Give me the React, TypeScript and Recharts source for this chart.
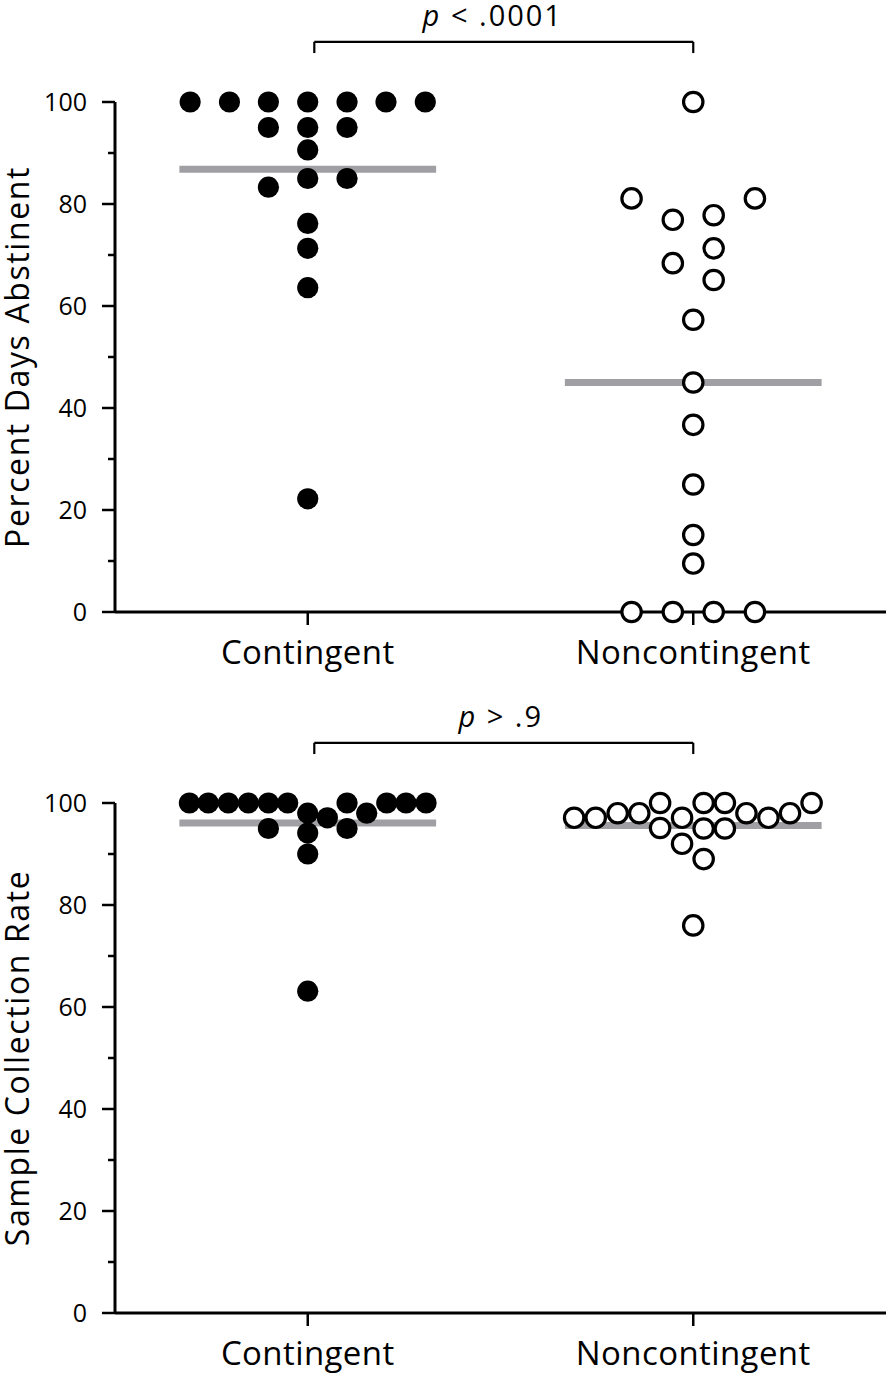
import React from 'react';
import {Label, ReferenceLine, Scatter, ScatterChart, XAxis, YAxis} from 'recharts';

const FONT = '"Open Sans", sans-serif';
const MEDIAN_GRAY = '#a0a0a4';

const categories = ['Contingent', 'Noncontingent'];
const yTicks = [0, 10, 20, 30, 40, 50, 60, 70, 80, 90, 100];

// [horizontal spread from the group centre, value]
const abstinentContingent = [
    [-0.305, 100], [-0.203, 100], [-0.102, 100], [0, 100], [0.102, 100], [0.203, 100], [0.305, 100],
    [-0.102, 95], [0, 95], [0.102, 95],
    [0, 90.6],
    [0, 85], [0.102, 85], [-0.102, 83.3],
    [0, 76.2], [0, 71.3], [0, 63.6], [0, 22.2],
];
const abstinentNoncontingent = [
    [0, 100],
    [-0.16, 81.1], [0.16, 81.1],
    [-0.053, 76.9], [0.053, 77.8],
    [0.053, 71.3], [-0.053, 68.4], [0.053, 65.1],
    [0, 57.3], [0, 45], [0, 36.7], [0, 25], [0, 15.1], [0, 9.5],
    [-0.16, 0], [-0.053, 0], [0.053, 0], [0.16, 0],
];
const abstinentMedians = [86.8, 45];

const collectionContingent = [
    [-0.307, 100], [-0.258, 100], [-0.206, 100], [-0.154, 100], [-0.102, 100], [-0.052, 100],
    [0.102, 100], [0.205, 100], [0.255, 100], [0.307, 100],
    [0, 98], [0.051, 97.1], [0.153, 98],
    [-0.102, 95], [0.102, 95], [0, 94.1], [0, 90], [0, 63.1],
];
const collectionNoncontingent = [
    [-0.309, 97.1], [-0.253, 97.1], [-0.196, 98], [-0.14, 98],
    [-0.086, 100], [-0.086, 95.1], [-0.029, 97.1], [-0.029, 92],
    [0.027, 100], [0.027, 95], [0.027, 89],
    [0.082, 100], [0.082, 95], [0.138, 98], [0.195, 97.1], [0.251, 98], [0.307, 100],
    [0, 76],
];
const collectionMedians = [96.1, 95.6];

const toPoints = (group: number, rows: number[][]) =>
    rows.map(([dx, v]) => ({x: group + dx, y: v}));

const FilledDot = (props: any) => <circle cx={props.cx} cy={props.cy} r={10.6} fill="#000"/>;
const OpenDot = (props: any) => (
    <circle cx={props.cx} cy={props.cy} r={9.7} fill="#fff" stroke="#000" strokeWidth={3.2}/>
);

const YTick = (props: any) => {
    const {x, y, payload} = props;
    const axisX = x + 25;
    const major = payload.value % 20 === 0;
    return (
        <g>
            <line x1={axisX - (major ? 13 : 7)} x2={axisX} y1={y} y2={y} stroke="#000" strokeWidth={2.5}/>
            {major && (
                <text x={axisX - 28} y={y} dy="0.36em" textAnchor="end" fontSize={25} fontFamily={FONT} fill="#000">
                    {payload.value}
                </text>
            )}
        </g>
    );
};

interface PanelProps {
    contingent: number[][];
    noncontingent: number[][];
    medians: number[];
    yLabel: string;
    pSign: string;
    pValue: string;
    pShift: number;
    top: number;
    xAxisHeight: number;
}

const Panel: React.FC<PanelProps> = ({contingent, noncontingent, medians, yLabel, pSign, pValue, pShift, top, xAxisHeight}) => (
    <ScatterChart width={886} height={top + 510 + xAxisHeight}
                  margin={{top: top, right: 0, left: 0, bottom: 0}}>
        <XAxis type="number" dataKey="x" domain={[0.5, 2.5]} ticks={[1, 2]}
               tickFormatter={(v: number) => categories[v - 1]}
               height={xAxisHeight} tickSize={13} tickMargin={16}
               axisLine={{stroke: '#000', strokeWidth: 3}}
               tickLine={{stroke: '#000', strokeWidth: 2.5}}
               tick={{fontSize: 33, fill: '#000', fontFamily: FONT, letterSpacing: 0.4}}
        />
        <YAxis type="number" dataKey="y" domain={[0, 100]} ticks={yTicks} interval={0}
               width={115} tickSize={13} tickMargin={12}
               axisLine={{stroke: '#000', strokeWidth: 3}}
               tickLine={false} tick={<YTick/>}>
            <Label content={(p: any) => {
                const cy = p.viewBox.y + p.viewBox.height / 2;
                return (
                    <text x={29} y={cy} transform={`rotate(-90, 29, ${cy})`} textAnchor="middle"
                          fontSize={32} letterSpacing={1.6} fontFamily={FONT} fill="#000">{yLabel}</text>
                );
            }}/>
        </YAxis>
        {medians.map((m, i) => (
            <ReferenceLine key={'m' + i} segment={[{x: i + 1 - 0.333, y: m}, {x: i + 1 + 0.333, y: m}]}
                           stroke={MEDIAN_GRAY} strokeWidth={7}/>
        ))}
        <ReferenceLine segment={[{x: 1.017, y: 109.6}, {x: 1.017, y: 111.8}]} ifOverflow="visible"
                       stroke="#000" strokeWidth={2.2}/>
        <ReferenceLine segment={[{x: 2, y: 109.6}, {x: 2, y: 111.8}]} ifOverflow="visible"
                       stroke="#000" strokeWidth={2.2}/>
        <ReferenceLine segment={[{x: 1.017, y: 111.8}, {x: 2, y: 111.8}]} ifOverflow="visible"
                       stroke="#000" strokeWidth={2.2}>
            <Label content={(p: any) => {
                const vb = p.viewBox || {};
                const cx = vb.x + (vb.width || 0) / 2 + pShift;
                return (
                    <text x={cx} y={vb.y - 16} textAnchor="middle" fontSize={29} letterSpacing={2}
                          fontFamily={FONT} fill="#000">
                        <tspan fontStyle="italic">p</tspan>{` ${pSign} ${pValue}`}
                    </text>
                );
            }}/>
        </ReferenceLine>
        <Scatter data={toPoints(1, contingent)} shape={<FilledDot/>} isAnimationActive={false}/>
        <Scatter data={toPoints(2, noncontingent)} shape={<OpenDot/>} isAnimationActive={false}/>
    </ScatterChart>
);

export default function App() {
    return (
        <div style={{position: 'absolute', left: 0, top: 0, width: 886, height: 1377, background: '#fff'}}>
            <Panel contingent={abstinentContingent} noncontingent={abstinentNoncontingent}
                   medians={abstinentMedians} yLabel="Percent Days Abstinent"
                   pSign="<" pValue=".0001" pShift={-11} top={102} xAxisHeight={78}/>
            <Panel contingent={collectionContingent} noncontingent={collectionNoncontingent}
                   medians={collectionMedians} yLabel="Sample Collection Rate"
                   pSign=">" pValue=".9" pShift={-3} top={113} xAxisHeight={64}/>
        </div>
    );
}
